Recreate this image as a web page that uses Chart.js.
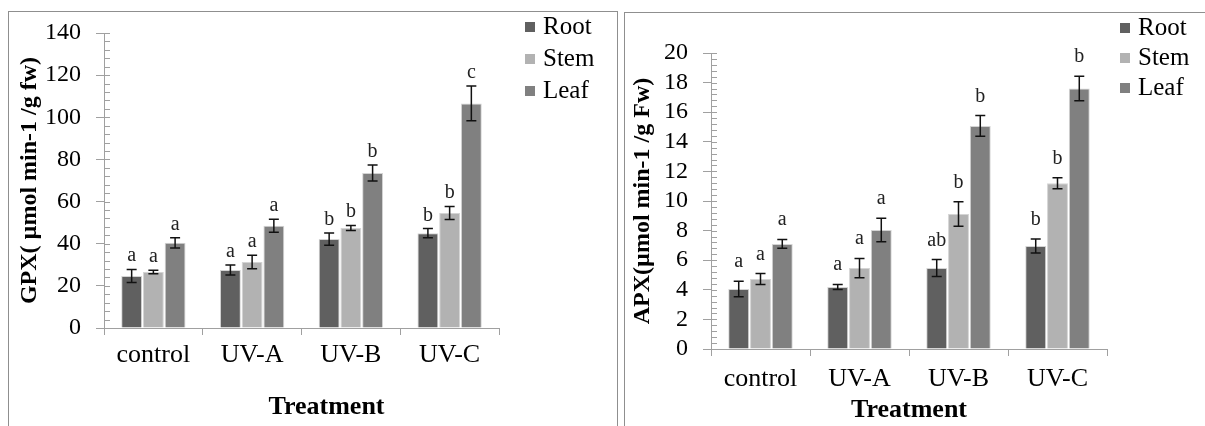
<!DOCTYPE html>
<html>
<head>
<meta charset="utf-8">
<script src="https://cdn.jsdelivr.net/npm/chart.js@4.4.0/dist/chart.umd.min.js"></script>
<style>
  body { margin:0; background:#fff; width:1205px; height:426px; overflow:hidden; position:relative; }
  .panel { position:absolute; border:1px solid #8f8f8f; box-sizing:border-box; }
  canvas { position:absolute; top:0; }
</style>
</head>
<body>
<div class="panel" style="left:8px;top:11px;width:610px;height:460px"></div>
<div class="panel" style="left:624px;top:12px;width:640px;height:460px"></div>
<canvas id="gpx" width="620" height="426" style="left:0;width:620px;height:426px"></canvas>
<canvas id="apx" width="585" height="426" style="left:620px;width:585px;height:426px"></canvas>
<script>
// DADOS
const treatments = ["control", "UV-A", "UV-B", "UV-C"];
const tissues = ["Root", "Stem", "Leaf"];
const tissueColors = ["#606060", "#b2b2b2", "#808080"];

// GPX
const gpxRoot = [24.7, 27.5, 42.2, 45.0];
const gpxStem = [26.6, 31.3, 47.5, 54.6];
const gpxLeaf = [40.4, 48.5, 73.6, 106.6];
const gpxRootErr = [3.1, 2.4, 2.9, 2.2];
const gpxStemErr = [0.8, 3.2, 1.2, 3.1];
const gpxLeafErr = [2.4, 3.1, 3.8, 8.3];
const gpxRootLetters = ["a", "a", "b", "b"];
const gpxStemLetters = ["a", "a", "b", "b"];
const gpxLeafLetters = ["a", "a", "b", "c"];
const gpxTicks = { max: 140, step: 20, minor: 4 };

// APX
const apxRoot = [4.05, 4.19, 5.47, 6.96];
const apxStem = [4.73, 5.47, 9.12, 11.2];
const apxLeaf = [7.1, 8.04, 15.07, 17.6];
const apxRootErr = [0.52, 0.17, 0.57, 0.47];
const apxStemErr = [0.37, 0.65, 0.83, 0.37];
const apxLeafErr = [0.3, 0.8, 0.7, 0.83];
const apxRootLetters = ["a", "a", "ab", "b"];
const apxStemLetters = ["a", "a", "b", "b"];
const apxLeafLetters = ["a", "a", "b", "b"];
const apxTicks = { max: 20, step: 2, minor: 0.4 };

const SERIF = '"Liberation Serif", "Times New Roman", serif';
const AXIS = "#a0a0a0";

// barras de erro + letras
const errorBars = {
  id: "errorBars",
  afterDatasetsDraw(chart, args, opts) {
    const ctx = chart.ctx, y = chart.scales.y;
    ctx.save();
    chart.data.datasets.forEach((ds, i) => {
      chart.getDatasetMeta(i).data.forEach((bar, j) => {
        const v = ds.data[j], e = ds.errors[j];
        const top = y.getPixelForValue(v + e), bot = y.getPixelForValue(v - e);
        ctx.strokeStyle = "#111"; ctx.lineWidth = 1.5;
        ctx.beginPath();
        ctx.moveTo(bar.x, top); ctx.lineTo(bar.x, bot);
        ctx.moveTo(bar.x - 5, top); ctx.lineTo(bar.x + 5, top);
        ctx.moveTo(bar.x - 5, bot); ctx.lineTo(bar.x + 5, bot);
        ctx.stroke();
        ctx.fillStyle = "#222";
        ctx.font = "20px " + SERIF;
        ctx.textAlign = "center"; ctx.textBaseline = "alphabetic";
        ctx.fillText(ds.letters[j], bar.x, top - opts.gap);
      });
    });
    ctx.restore();
  }
};

// ticks menores do eixo y
const minorTicks = {
  id: "minorTicks",
  afterDraw(chart, args, opts) {
    const s = chart.scales.y, ctx = chart.ctx;
    ctx.save();
    ctx.strokeStyle = AXIS; ctx.lineWidth = 1;
    ctx.beginPath();
    for (let k = 0; k * opts.step <= s.max + 1e-9; k++) {
      const py = Math.round(s.getPixelForValue(k * opts.step)) + 0.5;
      ctx.moveTo(s.right, py); ctx.lineTo(s.right + 6, py);
    }
    ctx.stroke();
    ctx.restore();
  }
};

// legenda lateral
const sideLegend = {
  id: "sideLegend",
  afterDraw(chart, args, opts) {
    const ctx = chart.ctx;
    ctx.save();
    ctx.font = "25px " + SERIF;
    ctx.textBaseline = "middle"; ctx.textAlign = "left";
    chart.data.datasets.forEach((ds, i) => {
      const cy = opts.y + i * opts.step;
      ctx.fillStyle = ds.backgroundColor;
      ctx.fillRect(opts.x, cy - 5, 10, 10);
      ctx.fillStyle = "#000";
      ctx.fillText(ds.label, opts.x + 18, cy);
    });
    ctx.restore();
  }
};

// título do eixo x
const xTitle = {
  id: "xTitle",
  afterDraw(chart, args, opts) {
    const a = chart.chartArea, ctx = chart.ctx;
    ctx.save();
    ctx.font = "bold 26px " + SERIF;
    ctx.textAlign = "center"; ctx.textBaseline = "middle"; ctx.fillStyle = "#000";
    ctx.fillText(opts.text, (a.left + a.right) / 2 + opts.dx, a.bottom + opts.dy);
    ctx.restore();
  }
};

function montar(id, cfg) {
  const series = [
    { values: cfg.root, errors: cfg.rootErr, letters: cfg.rootLetters },
    { values: cfg.stem, errors: cfg.stemErr, letters: cfg.stemLetters },
    { values: cfg.leaf, errors: cfg.leafErr, letters: cfg.leafLetters }
  ];
  return new Chart(document.getElementById(id), {
    type: "bar",
    data: {
      labels: treatments,
      datasets: series.map((s, i) => ({
        label: tissues[i], data: s.values, errors: s.errors, letters: s.letters,
        backgroundColor: tissueColors[i], borderColor: "#d4d4d4", borderWidth: 1,
        categoryPercentage: 0.66, barPercentage: 0.96
      }))
    },
    options: {
      responsive: false, animation: false, devicePixelRatio: 1,
      layout: { padding: cfg.padding },
      plugins: {
        legend: { display: false }, tooltip: { enabled: false },
        errorBars: { gap: cfg.letterGap },
        minorTicks: { step: cfg.ticks.minor },
        sideLegend: cfg.legend,
        xTitle: { text: "Treatment", dx: cfg.titleDx, dy: cfg.titleDy }
      },
      scales: {
        x: {
          grid: { drawOnChartArea: false, tickLength: 7, color: AXIS, offset: true },
          border: { color: AXIS },
          ticks: { color: "#000", font: { family: SERIF, size: 26 }, padding: cfg.xPad },
          afterFit: s => { s.height = cfg.xHeight; }
        },
        y: {
          min: 0, max: cfg.ticks.max,
          ticks: { stepSize: cfg.ticks.step, autoSkip: false, color: "#000",
                   font: { family: SERIF, size: 24 }, padding: 15 },
          grid: { drawOnChartArea: false, tickLength: 8, color: AXIS },
          border: { color: AXIS },
          title: { display: true, text: cfg.title, color: "#000",
                   font: { family: SERIF, size: 24, weight: "bold" },
                   padding: { top: cfg.titlePad, bottom: 0 } },
          afterFit: s => { s.width = cfg.yWidth; }
        }
      }
    },
    plugins: [errorBars, minorTicks, sideLegend, xTitle]
  });
}

montar("gpx", {
  root: gpxRoot, stem: gpxStem, leaf: gpxLeaf,
  rootErr: gpxRootErr, stemErr: gpxStemErr, leafErr: gpxLeafErr,
  rootLetters: gpxRootLetters, stemLetters: gpxStemLetters, leafLetters: gpxLeafLetters,
  ticks: gpxTicks, title: "GPX( µmol min-1 /g fw)",
  padding: { left: 0, right: 121, top: 33, bottom: 0 },
  yWidth: 104, xHeight: 98, xPad: 5, titlePad: 15.6,
  letterGap: 8, titleDx: 25, titleDy: 79,
  legend: { x: 525, y: 27, step: 32 }
});

montar("apx", {
  root: apxRoot, stem: apxStem, leaf: apxLeaf,
  rootErr: apxRootErr, stemErr: apxStemErr, leafErr: apxLeafErr,
  rootLetters: apxRootLetters, stemLetters: apxStemLetters, leafLetters: apxLeafLetters,
  ticks: apxTicks, title: "APX(µmol min-1 /g Fw)",
  padding: { left: 0, right: 98, top: 53, bottom: 0 },
  yWidth: 91, xHeight: 77, xPad: 8, titlePad: 8.6,
  letterGap: 14, titleDx: 0, titleDy: 61,
  legend: { x: 500, y: 28, step: 30 }
});
</script>
</body>
</html>
